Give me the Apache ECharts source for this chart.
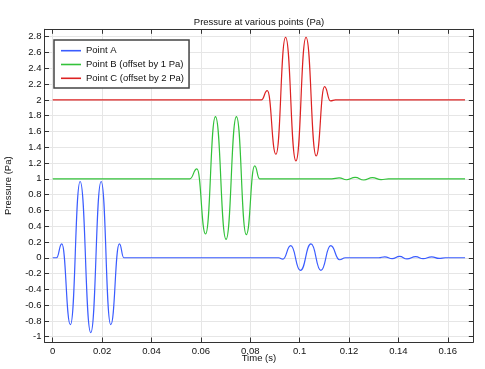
<!DOCTYPE html>
<html>
<head>
<meta charset="utf-8">
<script src="https://cdn.jsdelivr.net/npm/echarts@6/dist/echarts.min.js"></script>
<style>html,body{margin:0;padding:0;background:#fff}#c{width:485px;height:369px}</style>
</head>
<body>
<div id="c"></div>
<script>
// ---- data ----
const xTicks = [0, 0.02, 0.04, 0.06, 0.08, 0.1, 0.12, 0.14, 0.16];
const yTicks = [-1, -0.8, -0.6, -0.4, -0.2, 0, 0.2, 0.4, 0.6, 0.8, 1, 1.2, 1.4, 1.6, 1.8, 2, 2.2, 2.4, 2.6, 2.8];

const seriesNames = ['Point A', 'Point B (offset by 1 Pa)', 'Point C (offset by 2 Pa)'];

const aTime  = [0, 0.0015, 0.00365, 0.00716, 0.0111, 0.0154, 0.0196, 0.0235, 0.027, 0.0288,
                0.0915, 0.0932, 0.0964, 0.1003, 0.1046, 0.1086, 0.1126, 0.1162, 0.1185,
                0.132, 0.1345, 0.1375, 0.1405, 0.1435, 0.147, 0.150, 0.1535, 0.1565, 0.159, 0.167];
const aValue = [0, 0, 0.177, -0.848, 0.966, -0.949, 0.966, -0.848, 0.177, 0,
                0, -0.017, 0.153, -0.16, 0.175, -0.16, 0.153, -0.025, 0,
                0, 0.012, -0.012, 0.018, -0.015, 0.015, -0.012, 0.012, -0.008, 0, 0];

const bTime  = [0, 0.0555, 0.0584, 0.0619, 0.0659, 0.0702, 0.0744, 0.0784, 0.0818, 0.0838,
                0.113, 0.116, 0.119, 0.1225, 0.126, 0.1295, 0.133, 0.136, 0.167];
const bValue = [1, 1, 1.125, 0.301, 1.787, 0.234, 1.787, 0.293, 1.163, 1.0,
                1, 1.012, 0.988, 1.018, 0.985, 1.015, 0.99, 1, 1];

const cTime  = [0, 0.0845, 0.0869, 0.0904, 0.0943, 0.0985, 0.1026, 0.1067, 0.1101, 0.1125, 0.1145, 0.167];
const cValue = [2, 2, 2.117, 1.311, 2.793, 1.226, 2.793, 1.289, 2.167, 1.988, 2.0, 2];

const colors = ['#3a5cff', '#33c23a', '#dd2222'];

function zip(t, v) { return t.map((x, i) => [x, v[i]]); }

const FONT = 'Liberation Sans';
const FS = 9.5;

const chart = echarts.init(document.getElementById('c'), null, {renderer: 'canvas'});
const frame = {show: true, onZero: false, lineStyle: {color: '#333', width: 1}};
const tickStyle = {lineStyle: {color: '#333', width: 1}};

chart.setOption({
  animation: false,
  backgroundColor: '#fff',
  title: {
    text: 'Pressure at various points (Pa)',
    left: 259, top: 17, textAlign: 'center', padding: 0,
    textStyle: {fontFamily: FONT, fontSize: FS, fontWeight: 'normal', color: '#111'}
  },
  grid: {left: 44.5, right: 11.7, top: 29.3, bottom: 27, containLabel: false, outerBoundsMode: 'none'},
  legend: {
    data: seriesNames,
    orient: 'vertical',
    left: 54, top: 40,
    padding: [4.7, 5, 3.7, 7],
    itemGap: 1.8,
    itemWidth: 20, itemHeight: 1.6,
    icon: 'rect',
    backgroundColor: '#fff',
    borderColor: '#444', borderWidth: 1.5,
    textStyle: {fontFamily: FONT, fontSize: FS, color: '#111', lineHeight: 12}
  },
  xAxis: [{
    type: 'value', position: 'bottom',
    min: -0.00334, max: 0.17034,
    name: 'Time (s)', nameLocation: 'middle', nameGap: 11, nameMoveOverlap: false,
    nameTextStyle: {fontFamily: FONT, fontSize: FS, color: '#111'},
    axisLine: frame,
    axisTick: Object.assign({show: true, inside: true, length: 4.5, customValues: xTicks}, tickStyle),
    axisLabel: {customValues: xTicks, margin: 4, fontFamily: FONT, fontSize: FS, color: '#111',
                formatter: v => String(parseFloat(v.toFixed(2)))},
    splitLine: {show: true, lineStyle: {color: '#e6e6e6', width: 1}}
  }, {
    type: 'value', position: 'top',
    min: -0.00334, max: 0.17034,
    axisLine: frame,
    axisTick: Object.assign({show: true, inside: true, length: 4.5, customValues: xTicks}, tickStyle),
    axisLabel: {show: false},
    splitLine: {show: false}
  }],
  yAxis: [{
    type: 'value', position: 'left',
    min: -1.067, max: 2.894,
    name: 'Pressure (Pa)', nameLocation: 'middle', nameGap: 31.5, nameMoveOverlap: false,
    nameTextStyle: {fontFamily: FONT, fontSize: FS, color: '#111'},
    axisLine: frame,
    axisTick: Object.assign({show: true, inside: true, length: 4.5, customValues: yTicks}, tickStyle),
    axisLabel: {customValues: yTicks, margin: 3, fontFamily: FONT, fontSize: FS, color: '#111',
                formatter: v => String(parseFloat(v.toFixed(1)))},
    splitLine: {show: true, lineStyle: {color: '#e6e6e6', width: 1}}
  }, {
    type: 'value', position: 'right',
    min: -1.067, max: 2.894,
    axisLine: frame,
    axisTick: Object.assign({show: true, inside: true, length: 4.5, customValues: yTicks}, tickStyle),
    axisLabel: {show: false},
    splitLine: {show: false}
  }],
  series: [
    {name: seriesNames[0], type: 'line', data: zip(aTime, aValue)},
    {name: seriesNames[1], type: 'line', data: zip(bTime, bValue)},
    {name: seriesNames[2], type: 'line', data: zip(cTime, cValue)}
  ].map((s, i) => Object.assign(s, {
    xAxisIndex: 0, yAxisIndex: 0,
    showSymbol: false, symbol: 'none',
    smooth: 0.5, smoothMonotone: 'x',
    color: colors[i],
    lineStyle: {color: colors[i], width: 1.2},
    itemStyle: {color: colors[i]},
    emphasis: {disabled: true}
  }))
});
</script>
</body>
</html>
